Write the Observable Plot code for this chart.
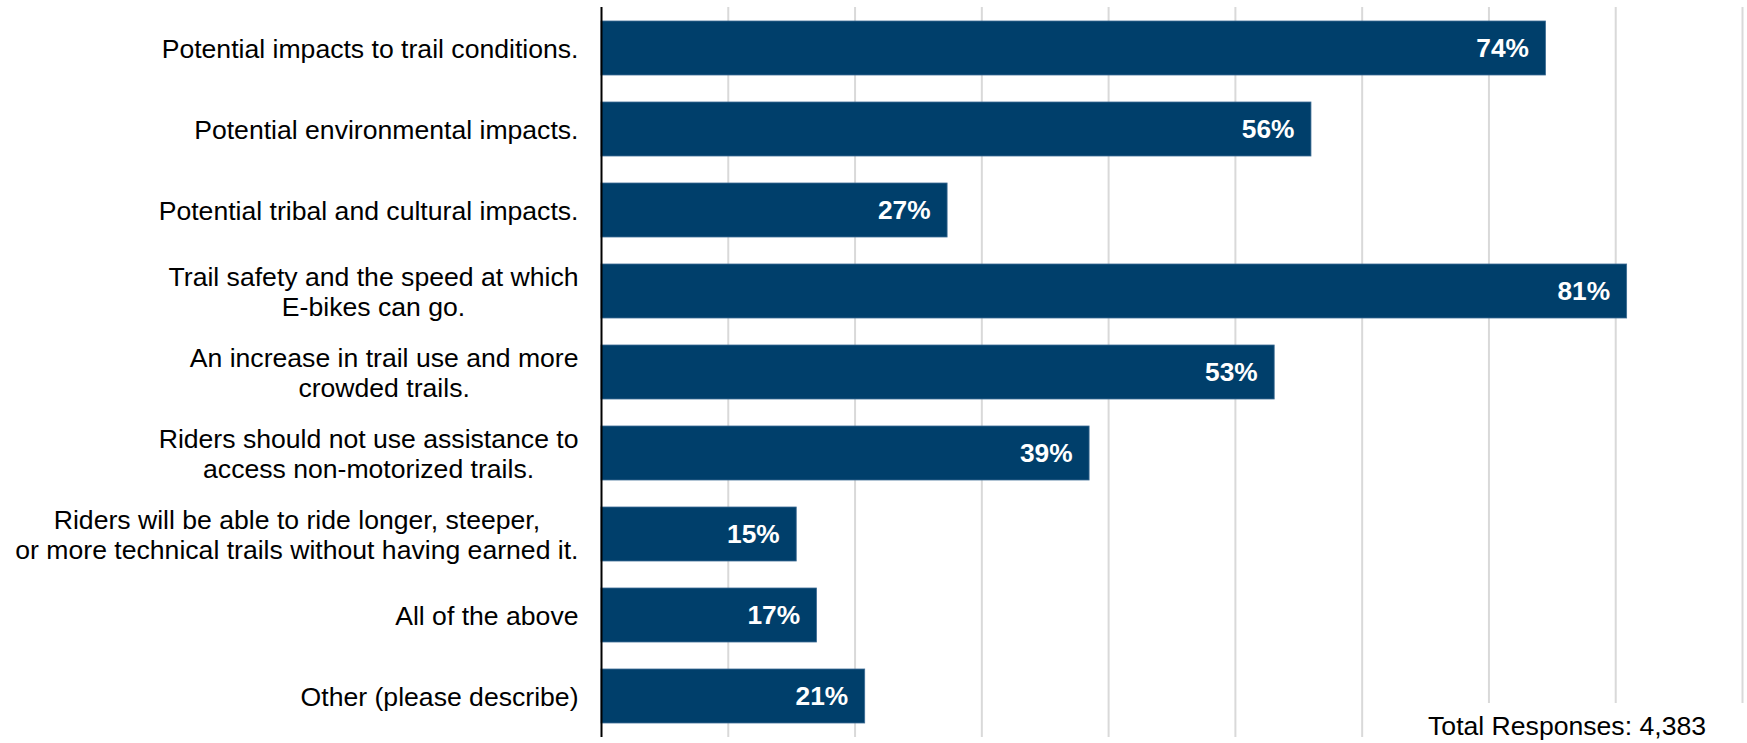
<!DOCTYPE html>
<html>
<head>
<meta charset="utf-8">
<script src="https://cdn.jsdelivr.net/npm/d3@7"></script>
<script src="https://cdn.jsdelivr.net/npm/@observablehq/plot@0.6"></script>
<style>
  html, body { margin: 0; padding: 0; background: #fff; }
  #wrap { position: relative; width: 1747px; height: 743px; overflow: hidden; }
  #caption {
    position: absolute; left: 1400px; top: 703px; right: 0; bottom: 0;
    background: #fff; text-align: right; padding-right: 41px; padding-top: 10px;
    box-sizing: border-box;
    font-family: "Liberation Sans", Arial, sans-serif; font-size: 26.6px; line-height: 1; color: #000;
  }
</style>
</head>
<body>
<div id="wrap"><div id="caption">Total Responses: 4,383</div></div>
<script>
const categories = [
  "Potential impacts to trail conditions.",
  "Potential environmental impacts.",
  "Potential tribal and cultural impacts.",
  "Trail safety and the speed at which\nE-bikes can go.",
  "An increase in trail use and more\ncrowded trails.",
  "Riders should not use assistance to\naccess non-motorized trails.",
  "Riders will be able to ride longer, steeper,\nor more technical trails without having earned it.",
  "All of the above",
  "Other (please describe)"
];
const values = [74.5, 56.0, 27.3, 80.9, 53.1, 38.5, 15.4, 17.0, 20.8];
const valueLabels = ["74%", "56%", "27%", "81%", "53%", "39%", "15%", "17%", "21%"];
const gridTicks = [10, 20, 30, 40, 50, 60, 70, 80, 90];

const rows = categories.map((c, i) => ({category: c, value: values[i], label: valueLabels[i]}));

const chart = Plot.plot({
  width: 1747,
  height: 743,
  marginLeft: 601,
  marginRight: 5,
  marginTop: 7,
  marginBottom: 6,
  style: {fontFamily: "'Liberation Sans', Arial, sans-serif", fontSize: "26.6px", background: "white", color: "#000"},
  x: {domain: [0, 90], axis: null},
  y: {domain: categories, paddingInner: 0.333, paddingOuter: 0.1667, label: null},
  marks: [
    Plot.gridX(gridTicks, {stroke: "#d9d9d9", strokeOpacity: 1, strokeWidth: 2}),
    Plot.barX(rows, {y: "category", x: "value", fill: "#003f6b", stroke: "#3d6c94", strokeWidth: 0.8}),
    Plot.ruleX([0], {stroke: "#000", strokeWidth: 2}),
    Plot.axisY({tickSize: 0, tickPadding: 23, label: null, lineHeight: 1.1, fontSize: 26.6, fill: "#000"}),
    Plot.text(rows, {y: "category", x: "value", text: "label", textAnchor: "end", dx: -17,
      fill: "white", fontWeight: "bold", fontSize: 26.3})
  ]
});

document.getElementById("wrap").insertBefore(chart, document.getElementById("caption"));

// Center multi-line labels within their block (right edge kept at the axis padding)
chart.querySelectorAll('g[aria-label="y-axis tick label"] text').forEach(t => {
  const w = t.getBBox().width;
  t.setAttribute("text-anchor", "middle");
  const spans = t.querySelectorAll("tspan");
  if (spans.length) spans.forEach(s => s.setAttribute("x", -w / 2));
  else t.setAttribute("x", -w / 2);
});
</script>
</body>
</html>
